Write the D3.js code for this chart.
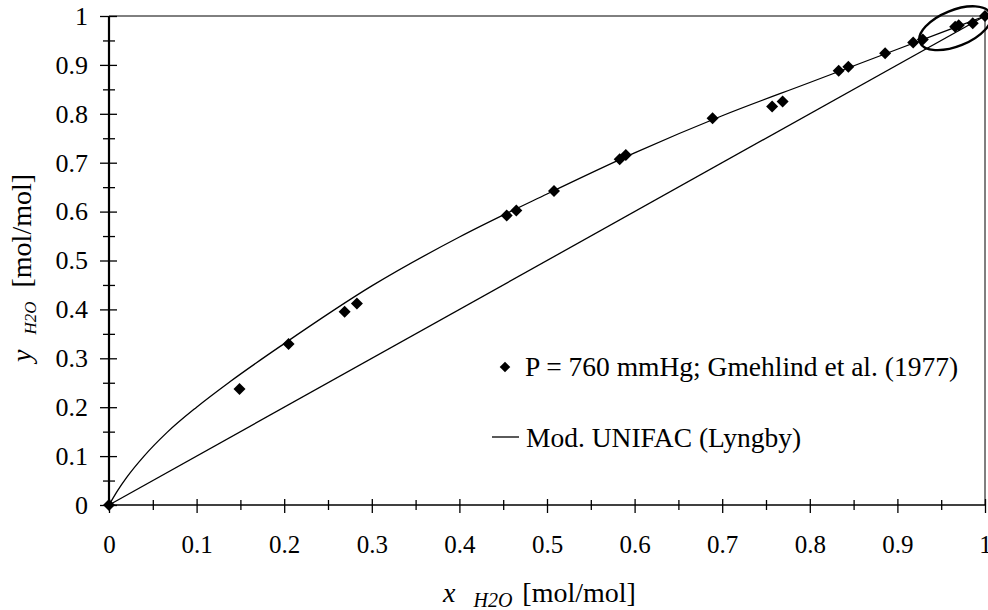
<script src="https://d3js.org/d3.v7.min.js"></script>
<style>
  body { margin: 0; background: #fff; }
  svg text { font-family: "Liberation Serif", "Times New Roman", Times, serif; fill: #000; }
</style>
<div id="chart"></div>
<script>

// measured points (Gmehling et al. 1977, P = 760 mmHg)
var xData = [0, 0.149, 0.205, 0.269, 0.283, 0.454, 0.465, 0.508, 0.583, 0.590, 0.689,
             0.757, 0.769, 0.833, 0.844, 0.886, 0.918, 0.929, 0.966, 0.970, 0.986, 1.0];
var yData = [0, 0.237, 0.329, 0.395, 0.412, 0.592, 0.602, 0.642, 0.707, 0.716, 0.791,
             0.815, 0.825, 0.888, 0.896, 0.924, 0.946, 0.952, 0.978, 0.981, 0.985, 1.0];

// Mod. UNIFAC (Lyngby) curve
var xModel = [0, 0.01, 0.02, 0.04, 0.066, 0.1, 0.138, 0.2, 0.3, 0.4, 0.5, 0.6, 0.7, 0.8, 0.9, 0.95, 1];
var yModel = [0, 0.03, 0.056, 0.1, 0.148, 0.2, 0.252, 0.330, 0.448, 0.548, 0.636, 0.720, 0.796, 0.864, 0.932, 0.966, 1];

// y = x line
var xDiag = [0, 1];
var yDiag = [0, 1];

var majorTicks = [0, 0.1, 0.2, 0.3, 0.4, 0.5, 0.6, 0.7, 0.8, 0.9, 1];
var tickLabels = ["0", "0.1", "0.2", "0.3", "0.4", "0.5", "0.6", "0.7", "0.8", "0.9", "1"];
var minorTicks = [0.05, 0.15, 0.25, 0.35, 0.45, 0.55, 0.65, 0.75, 0.85, 0.95];

var legendLabels = ["P = 760 mmHg; Gmehlind et al. (1977)", "Mod. UNIFAC (Lyngby)"];

var serif = "'Liberation Serif', 'Times New Roman', Times, serif";

var margin = {top: 16, right: 3, bottom: 105, left: 109},
    width = 988 - margin.left - margin.right,
    height = 610 - margin.top - margin.bottom;

var root = d3.select("#chart")
  .append("svg")
    .attr("width", 988)
    .attr("height", 610)
    .attr("font-family", serif);

var svg = root.append("g")
    .attr("transform", "translate(" + margin.left + "," + margin.top + ")");

var x = d3.scaleLinear().domain([0, 1]).range([0, width]);
var y = d3.scaleLinear().domain([0, 1]).range([height, 0]);

// frame: top and right
svg.append("line").attr("x1", 0).attr("x2", width).attr("y1", 0).attr("y2", 0)
  .attr("stroke", "#000").attr("stroke-width", 1);
svg.append("line").attr("x1", width).attr("x2", width).attr("y1", 0).attr("y2", height)
  .attr("stroke", "#000").attr("stroke-width", 1);

function fmt(d) { return tickLabels[majorTicks.indexOf(d)]; }

// y axis (ticks cross the axis)
var yLab = svg.append("g")
  .call(d3.axisLeft(y).tickValues(majorTicks).tickSize(9).tickPadding(12).tickFormat(fmt));
svg.append("g")
  .call(d3.axisRight(y).tickValues(majorTicks).tickSize(8).tickFormat(""));
svg.append("g")
  .call(d3.axisLeft(y).tickValues(minorTicks).tickSize(6).tickFormat(""));
svg.append("g")
  .call(d3.axisRight(y).tickValues(minorTicks).tickSize(6).tickFormat(""));

// x axis
var xLab = svg.append("g")
  .attr("transform", "translate(0," + height + ")")
  .call(d3.axisBottom(x).tickValues(majorTicks).tickSize(8).tickPadding(22).tickFormat(fmt));
svg.append("g")
  .attr("transform", "translate(0," + height + ")")
  .call(d3.axisTop(x).tickValues(majorTicks).tickSize(6).tickFormat(""));
svg.append("g")
  .attr("transform", "translate(0," + height + ")")
  .call(d3.axisBottom(x).tickValues(minorTicks).tickSize(5).tickFormat(""));
svg.append("g")
  .attr("transform", "translate(0," + height + ")")
  .call(d3.axisTop(x).tickValues(minorTicks).tickSize(5).tickFormat(""));

svg.selectAll("g").attr("font-family", serif);
svg.selectAll(".domain").attr("stroke", "none");
svg.selectAll(".tick line").attr("stroke", "#000").attr("stroke-width", 1.3);
yLab.selectAll(".tick text").attr("font-size", 26).attr("fill", "#000");
xLab.selectAll(".tick text").attr("font-size", 25).attr("fill", "#000");

// axis lines
svg.append("line").attr("x1", 0).attr("x2", 0).attr("y1", 0).attr("y2", height)
  .attr("stroke", "#000").attr("stroke-width", 2.2);
svg.append("line").attr("x1", 0).attr("x2", width).attr("y1", height).attr("y2", height)
  .attr("stroke", "#000").attr("stroke-width", 1.6);

// diagonal and model curve
var diag = d3.zip(xDiag, yDiag);
var model = d3.zip(xModel, yModel);
var line = d3.line()
  .x(function(d) { return x(d[0]); })
  .y(function(d) { return y(d[1]); });

svg.append("path").datum(diag)
  .attr("fill", "none").attr("stroke", "#000").attr("stroke-width", 1.3)
  .attr("d", line);

svg.append("path").datum(model)
  .attr("fill", "none").attr("stroke", "#000").attr("stroke-width", 1.3)
  .attr("d", line.curve(d3.curveMonotoneX));

// data points
var diamond = d3.symbol().type(d3.symbolSquare).size(72);
svg.selectAll(".pt")
  .data(d3.zip(xData, yData))
  .enter().append("path")
    .attr("class", "pt")
    .attr("d", diamond)
    .attr("fill", "#000")
    .attr("transform", function(d) {
      return "translate(" + x(d[0]) + "," + y(d[1]) + ") rotate(45)";
    });

// ellipse marking the dilute region
svg.append("ellipse")
  .attr("rx", 38).attr("ry", 18)
  .attr("fill", "none").attr("stroke", "#000").attr("stroke-width", 2.4)
  .attr("transform", "translate(" + x(0.966) + "," + y(0.975) + ") rotate(-22)");

// legend
root.append("path")
  .attr("d", d3.symbol().type(d3.symbolSquare).size(56))
  .attr("transform", "translate(505,367) rotate(45)")
  .attr("fill", "#000");
root.append("text")
  .attr("x", 525).attr("y", 376)
  .attr("font-size", 27.5)
  .text(legendLabels[0]);
root.append("line")
  .attr("x1", 492).attr("x2", 519).attr("y1", 437).attr("y2", 437)
  .attr("stroke", "#000").attr("stroke-width", 1.3);
root.append("text")
  .attr("x", 526).attr("y", 447)
  .attr("font-size", 27.5)
  .text(legendLabels[1]);

// axis titles
var xt = root.append("text")
  .attr("x", 443).attr("y", 602)
  .attr("font-size", 28);
xt.append("tspan").attr("font-style", "italic").text("x");
xt.append("tspan").attr("dx", 18).attr("dy", 5).attr("font-style", "italic").attr("font-size", 20).text("H2O");
xt.append("tspan").attr("dx", 10).attr("dy", -5).text("[mol/mol]");

var yt = root.append("text")
  .attr("transform", "translate(31,362) rotate(-90)")
  .attr("font-size", 28);
yt.append("tspan").attr("font-style", "italic").text("y");
yt.append("tspan").attr("dx", 15).attr("dy", 5).attr("font-style", "italic").attr("font-size", 17).text("H2O");
yt.append("tspan").attr("dx", 14).attr("dy", -5).text("[mol/mol]");

</script>
